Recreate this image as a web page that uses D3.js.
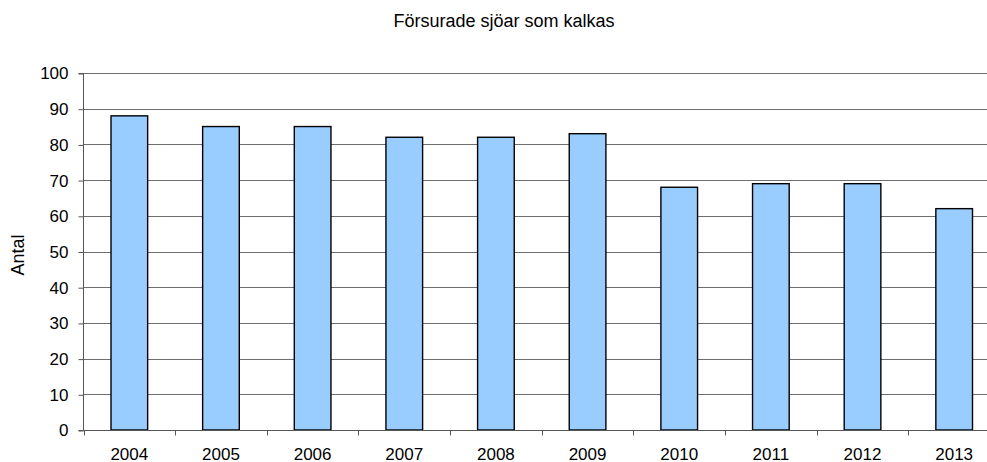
<!DOCTYPE html>
<style>
  body { margin: 0; background: white; overflow: hidden; }
  text { font-family: "Liberation Sans", Arial, sans-serif; fill: #000; }
</style>
<body>
</body>
<script src="https://cdn.jsdelivr.net/npm/d3@7"></script>
<script>
  const years = ['2004', '2005', '2006', '2007', '2008', '2009', '2010', '2011', '2012', '2013'];
  const counts = [88, 85, 85, 82, 82, 83, 68, 69, 69, 62];
  const yTicks = [0, 10, 20, 30, 40, 50, 60, 70, 80, 90, 100];

  const w = 987, h = 462;
  // plot area runs past the right edge of the picture
  const l = 83.5, r = 1000, t = 73, b = 430;

  const svg = d3.select('body').append('svg')
    .attr('width', w)
    .attr('height', h);

  const x = d3.scaleBand().domain(years).range([l, r]).paddingInner(0.6).paddingOuter(0.3);
  const xb = d3.scaleBand().domain(years).range([l, r]);
  const y = d3.scaleLinear().domain([0, 100]).range([b, t]);

  // gridlines
  svg.append('g')
    .selectAll('line')
    .data(yTicks.slice(1))
    .join('line')
      .attr('x1', l).attr('x2', r)
      .attr('y1', d => Math.round(y(d)) + 0.5).attr('y2', d => Math.round(y(d)) + 0.5)
      .attr('stroke', '#6e6e6e')
      .attr('stroke-width', 1);

  // bars
  svg.append('g')
    .selectAll('rect')
    .data(counts)
    .join('rect')
      .attr('x', (d, i) => x(years[i]))
      .attr('y', d => y(d))
      .attr('width', x.bandwidth())
      .attr('height', d => b - y(d))
      .attr('fill', '#99ccff')
      .attr('stroke', '#000')
      .attr('stroke-width', 1.4);

  // y axis
  const yAxis = svg.append('g')
    .attr('transform', `translate(${l}, 0.5)`)
    .call(d3.axisLeft(y).tickValues(yTicks).tickSize(5).tickPadding(10));
  yAxis.selectAll('line, path').attr('stroke', '#555');
  yAxis.select('.domain').attr('d', `M-5,${t}H0V${b}H-5`);
  yAxis.selectAll('text').attr('font-size', 17).attr('font-family', '"Liberation Sans", Arial, sans-serif');

  // x axis
  const xAxis = svg.append('g')
    .attr('transform', `translate(0, ${b + 0.5})`);
  xAxis.append('line')
    .attr('x1', l).attr('x2', r)
    .attr('stroke', '#555');
  xAxis.selectAll('line.tk')
    .data(years.concat(['end']))
    .join('line')
      .attr('class', 'tk')
      .attr('x1', (d, i) => Math.round(l + i * xb.step()) + 0.5)
      .attr('x2', (d, i) => Math.round(l + i * xb.step()) + 0.5)
      .attr('y1', 0).attr('y2', 5)
      .attr('stroke', '#555');
  xAxis.selectAll('text')
    .data(years)
    .join('text')
      .attr('x', d => xb(d) + xb.bandwidth() / 2)
      .attr('y', 29)
      .attr('text-anchor', 'middle')
      .attr('font-size', 17)
      .text(d => d);

  svg.append('text')
    .attr('x', 504)
    .attr('y', 27)
    .attr('text-anchor', 'middle')
    .attr('font-size', 18)
    .text('Försurade sjöar som kalkas');

  svg.append('text')
    .attr('transform', `translate(24, 255) rotate(-90)`)
    .attr('text-anchor', 'middle')
    .attr('font-size', 18)
    .text('Antal');
</script>
